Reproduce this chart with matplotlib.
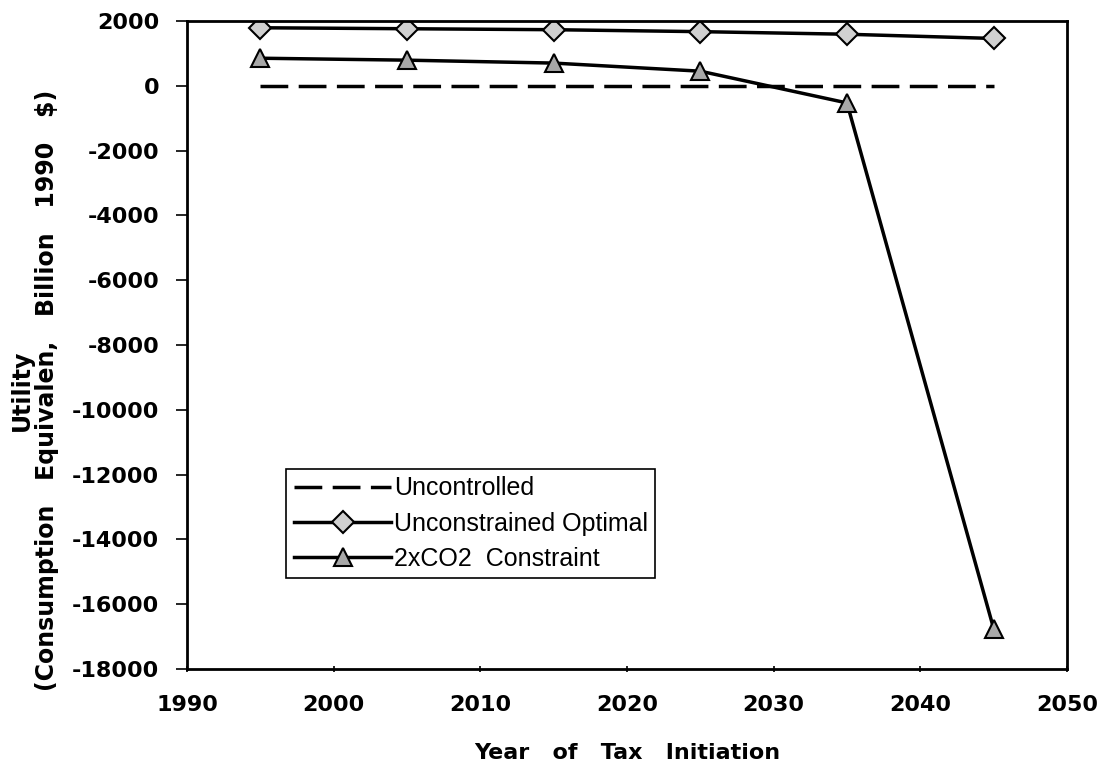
import matplotlib
matplotlib.use("Agg")
import matplotlib.pyplot as plt
from matplotlib.ticker import FuncFormatter

plt.rcParams["axes.unicode_minus"] = False

years = [1995, 2005, 2015, 2025, 2035, 2045]
uncontrolled = [0, 0, 0, 0, 0, 0]
unconstrained_optimal = [1790, 1760, 1730, 1670, 1590, 1460]
co2_constraint = [850, 790, 700, 450, -530, -16750]

x_ticks = [1990, 2000, 2010, 2020, 2030, 2040, 2050]
y_ticks = list(range(-18000, 2001, 2000))

fig = plt.figure(figsize=(11.02, 7.62), dpi=100)
ax = fig.add_axes([0.1697, 0.122, 0.7985, 0.8505])

ax.plot(years, uncontrolled, color="black", lw=2.5, dashes=(8, 3),
        label="Uncontrolled")
ax.plot(years, unconstrained_optimal, color="black", lw=2.5, marker="D",
        ms=11, mfc="#d0d0d0", mec="black", mew=1.5,
        label="Unconstrained Optimal")
ax.plot(years, co2_constraint, color="black", lw=2.5, marker="^",
        ms=13, mfc="#a8a8a8", mec="black", mew=1.5,
        label="2xCO2  Constraint")

ax.set_xlim(1990, 2050)
ax.set_ylim(-18000, 2000)
ax.set_xticks(x_ticks)
ax.set_yticks(y_ticks)
ax.yaxis.set_major_formatter(FuncFormatter(
    lambda v, p: ("-" if v < 0 else "") + str(int(abs(v)))))

for sp in ax.spines.values():
    sp.set_linewidth(2)

ax.tick_params(axis="y", direction="out", length=8, width=1.2, pad=12)
ax.tick_params(axis="x", direction="inout", length=5, width=1.2, pad=16)
for lbl in ax.get_xticklabels() + ax.get_yticklabels():
    lbl.set_fontfamily("DejaVu Sans")
    lbl.set_fontweight("bold")
    lbl.set_fontsize(16)

ax.set_xlabel("Year   of   Tax   Initiation", fontfamily="DejaVu Sans",
              fontweight="bold", fontsize=16, labelpad=20)
ax.set_ylabel("Utility\n(Consumption   Equivalen,   Billion   1990   $)",
              fontfamily="DejaVu Sans", fontweight="bold", fontsize=17,
              linespacing=1.05)
ax.yaxis.set_label_coords(-0.146, 0.43)

leg = ax.legend(loc="upper left", bbox_to_anchor=(0.113, 0.309),
                prop={"family": "Liberation Sans", "size": 18},
                handlelength=3.9, handletextpad=0.1, borderpad=0.3,
                labelspacing=0.45, fancybox=False, framealpha=1,
                edgecolor="black", borderaxespad=0)
leg.get_frame().set_linewidth(1.2)

fig.savefig("out.png", dpi=100)
